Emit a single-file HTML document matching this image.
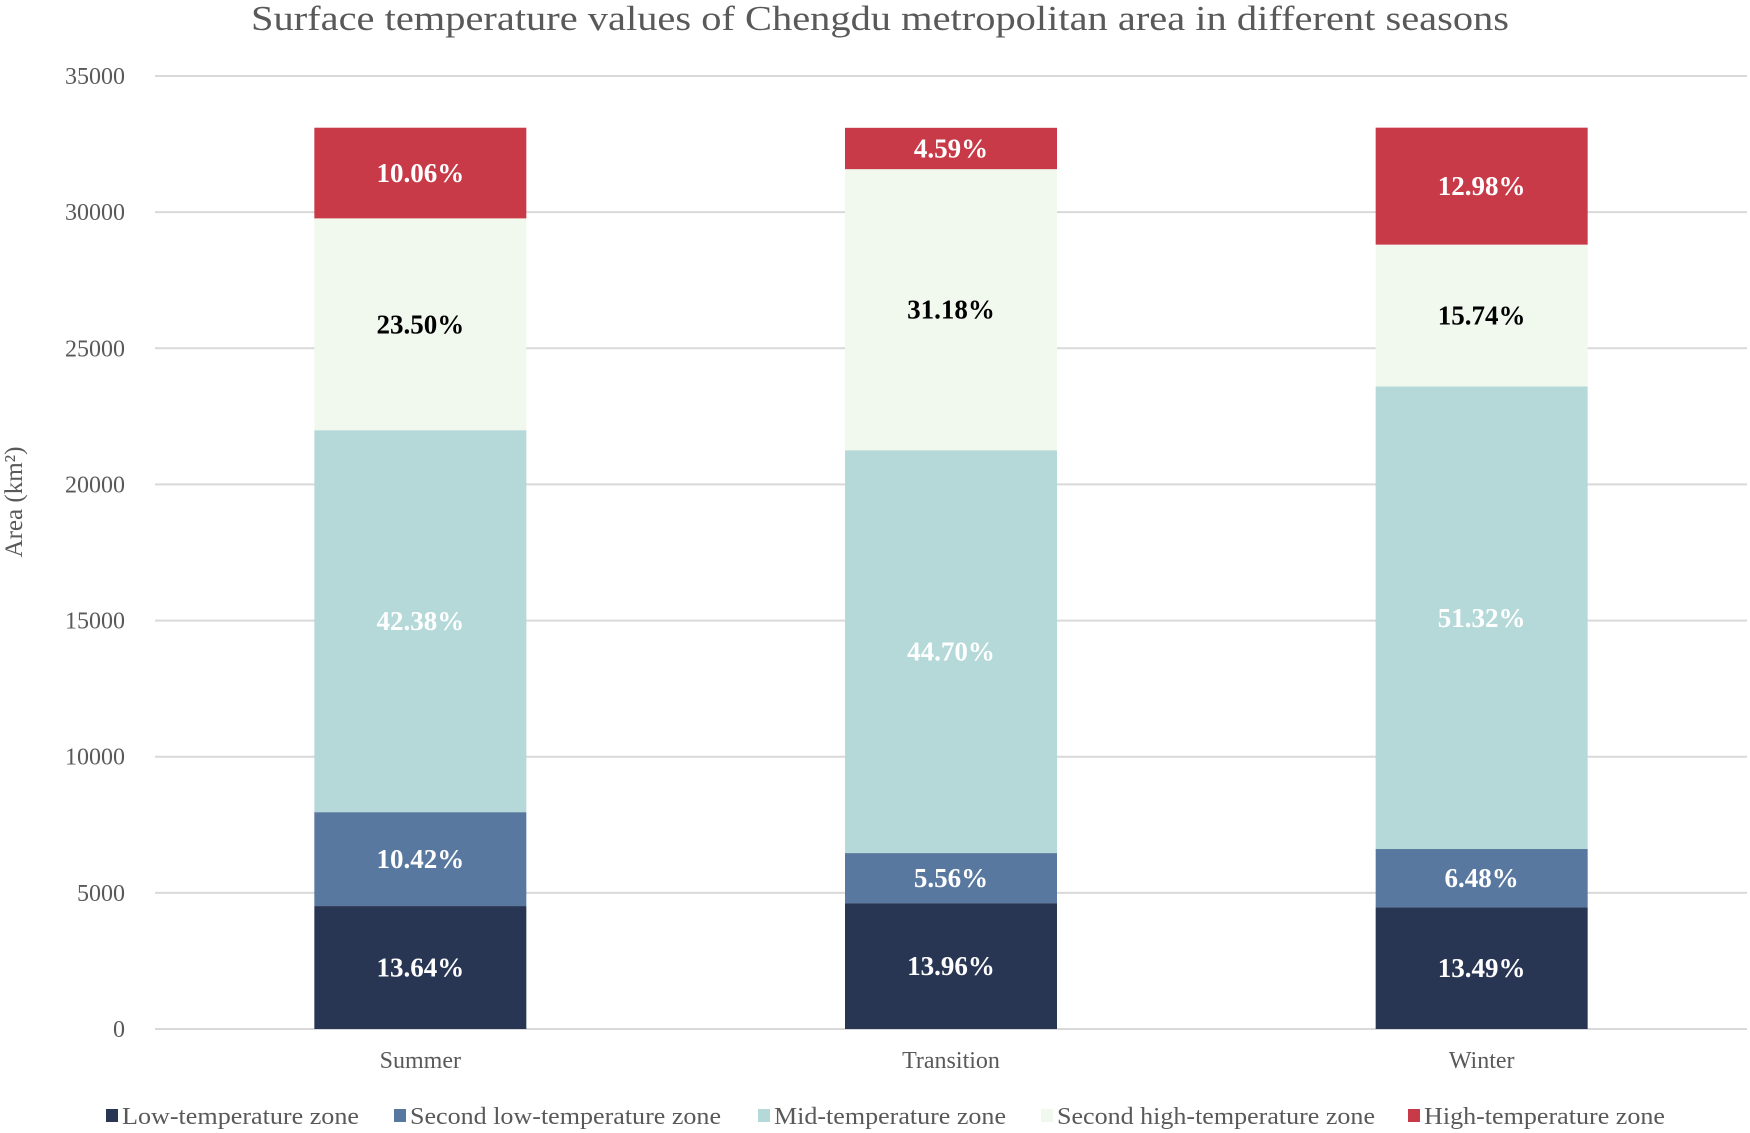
<!DOCTYPE html>
<html><head><meta charset="utf-8"><style>
html,body{margin:0;padding:0;background:#fff;}
svg{display:block;font-family:"Liberation Serif",serif;}
</style></head><body>
<svg id="chart" width="1750" height="1133" viewBox="0 0 1750 1133">
<text x="880" y="30" text-anchor="middle" font-size="35" fill="#595959" textLength="1258" lengthAdjust="spacingAndGlyphs">Surface temperature values of Chengdu metropolitan area in different seasons</text>
<text transform="translate(22,502) rotate(-90)" text-anchor="middle" font-size="25" fill="#595959">Area (km²)</text>
<g id="grid"></g><g id="bars"></g><g id="legend"></g>
</svg>
<script>
const categories = ["Summer","Transition","Winter"];
const seriesNames = ["Low-temperature zone","Second low-temperature zone","Mid-temperature zone","Second high-temperature zone","High-temperature zone"];
const lowVals = [4515, 4621, 4465];
const secondLowVals = [3449, 1840, 2145];
const midVals = [14028, 14796, 16987];
const secondHighVals = [7779, 10321, 5210];
const highVals = [3330, 1519, 4296];
const lowPct = ["13.64%","13.96%","13.49%"];
const secondLowPct = ["10.42%","5.56%","6.48%"];
const midPct = ["42.38%","44.70%","51.32%"];
const secondHighPct = ["23.50%","31.18%","15.74%"];
const highPct = ["10.06%","4.59%","12.98%"];
const yTicks = [0,5000,10000,15000,20000,25000,30000,35000];

const NS="http://www.w3.org/2000/svg";
const colors=["#283654","#5878a0","#b5d9d9","#f1f9ef","#c83a48"];
const textColors=["#fff","#fff","#fff","#000","#fff"];
const series=[lowVals,secondLowVals,midVals,secondHighVals,highVals];
const pcts=[lowPct,secondLowPct,midPct,secondHighPct,highPct];
const left=155,right=1747,y0=1029,y35=76,yMax=35000;
const y=v=>y0-(v/yMax)*(y0-y35);
const band=(right-left)/categories.length;
const xc=i=>left+band*(i+0.5);
const bw=212;
function mk(tag,attrs,parent){const e=document.createElementNS(NS,tag);for(const k in attrs)e.setAttribute(k,attrs[k]);parent.appendChild(e);return e;}
const grid=document.getElementById('grid'),bars=document.getElementById('bars'),legend=document.getElementById('legend');
yTicks.forEach(t=>{
  const l=mk('line',{x1:left,x2:right,y1:y(t),y2:y(t),stroke:'#d9d9d9','stroke-width':2},grid);
  
  
  const tx=mk('text',{x:125,y:y(t)+8,'text-anchor':'end','font-size':24,fill:'#595959'},grid);
  tx.textContent=t;
  
  
});
categories.forEach((c,i)=>{
  let base=0;
  series.forEach((s,k)=>{
    const v=s[i];
    const r=mk('rect',{x:xc(i)-bw/2,y:y(base+v),width:bw,height:y(base)-y(base+v),fill:colors[k]},bars);
    
    
    const t=mk('text',{x:xc(i),y:(y(base)+y(base+v))/2+9,'text-anchor':'middle','font-size':27,'font-weight':'bold',fill:textColors[k]},bars);
    t.textContent=pcts[k][i];
    
    
    base+=v;
  });
  const ct=mk('text',{x:xc(i),y:1068,'text-anchor':'middle','font-size':24,fill:'#595959'},bars);
  ct.textContent=c;
  
  
});
const lx=[106,394,758,1041,1408];
const lw=[237,311,232,318,241];
seriesNames.forEach((n,k)=>{
  const g=mk('g',{},legend);
  
  
  mk('rect',{x:lx[k],y:1109,width:12,height:13,fill:colors[k]},g);
  const t=mk('text',{x:lx[k]+16,y:1124,'font-size':24,fill:'#595959',textLength:lw[k],lengthAdjust:'spacingAndGlyphs'},g);
  t.textContent=n;
});
</script>
</body></html>
